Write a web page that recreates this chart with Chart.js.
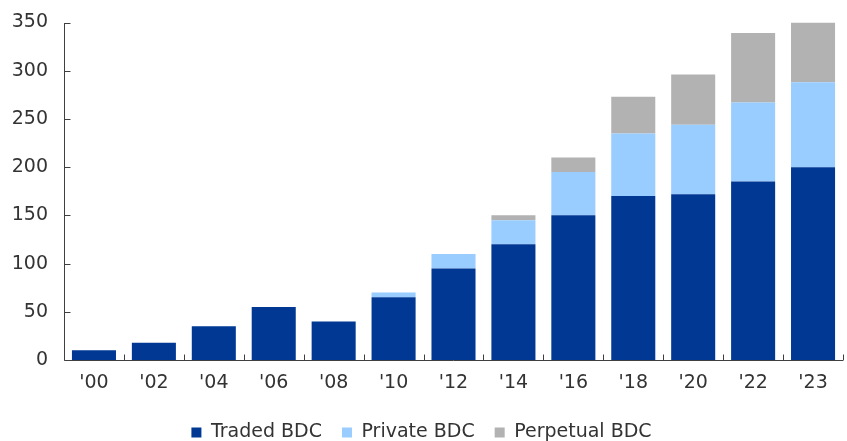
<!DOCTYPE html>
<html>
<head>
<meta charset="utf-8">
<script src="https://cdn.jsdelivr.net/npm/chart.js@4"></script>
<style>
  html, body { margin: 0; padding: 0; background: #ffffff; }
  #wrap { width: 847px; height: 441px; }
</style>
</head>
<body>
<div id="wrap"><canvas id="bdc" width="847" height="441"></canvas></div>
<script>
// Years (x-axis categories)
const years = ["'00", "'02", "'04", "'06", "'08", "'10", "'12", "'14", "'16", "'18", "'20", "'22", "'23"];

// Stacked segment values per year
const tradedBDC    = [10, 18, 35, 55, 40, 65, 95, 120, 150, 170, 172, 185, 200];
const privateBDC   = [0, 0, 0, 0, 0, 5, 15, 25, 45, 65, 72, 82, 88];
const perpetualBDC = [0, 0, 0, 0, 0, 0, 0, 5, 15, 38, 52, 72, 62];

// Y-axis tick values
const yTicks = [0, 50, 100, 150, 200, 250, 300, 350];

const AXIS_COLOR = '#404040';
const TEXT_COLOR = '#333333';
const FONT = 'DejaVu Sans';
const FONT_SIZE = 19;

// Draws the axis lines and short inward tick marks
const axisMarks = {
  id: 'axisMarks',
  afterDatasetsDraw(chart) {
    const { ctx, chartArea, scales } = chart;
    const x = scales.x, y = scales.y;
    ctx.save();
    ctx.strokeStyle = AXIS_COLOR;
    ctx.lineWidth = 1;
    ctx.beginPath();
    const left = Math.round(chartArea.left) + 0.5;
    const bottom = Math.round(y.getPixelForValue(0)) + 0.5;
    ctx.moveTo(left, Math.round(y.getPixelForValue(yTicks[yTicks.length - 1])));
    ctx.lineTo(left, bottom);
    ctx.lineTo(Math.round(chartArea.right), bottom);
    yTicks.forEach(v => {
      const py = Math.round(y.getPixelForValue(v)) + 0.5;
      ctx.moveTo(left, py);
      ctx.lineTo(left + 6, py);
    });
    const n = years.length;
    const step = x.getPixelForValue(1) - x.getPixelForValue(0);
    for (let i = 0; i < n; i++) {
      const px = Math.round(x.getPixelForValue(i) + step / 2) + 0.5;
      ctx.moveTo(px, bottom);
      ctx.lineTo(px, bottom - 6);
    }
    ctx.stroke();
    ctx.restore();
  }
};

new Chart(document.getElementById('bdc'), {
  type: 'bar',
  data: {
    labels: years,
    datasets: [
      { label: 'Traded BDC', data: tradedBDC, backgroundColor: '#003893' },
      { label: 'Private BDC', data: privateBDC, backgroundColor: '#99CCFF' },
      { label: 'Perpetual BDC', data: perpetualBDC, backgroundColor: '#B2B2B2' }
    ]
  },
  options: {
    responsive: false,
    animation: false,
    devicePixelRatio: 1,
    layout: { padding: { top: 22.5, right: 4, left: 0, bottom: -11 } },
    datasets: { bar: { categoryPercentage: 1, barPercentage: 0.735 } },
    scales: {
      x: {
        stacked: true,
        grid: { display: false, drawTicks: false },
        border: { display: false },
        ticks: { color: TEXT_COLOR, font: { family: FONT, size: FONT_SIZE }, padding: 12, maxRotation: 0 },
        afterFit(s) { s.height = 43; }
      },
      y: {
        stacked: true,
        min: 0, max: 350,
        grid: { display: false, drawTicks: false },
        border: { display: false },
        ticks: { stepSize: 50, color: TEXT_COLOR, font: { family: FONT, size: FONT_SIZE }, padding: 16 },
        afterFit(s) { s.width = 64; s.paddingTop = 0; s.paddingBottom = 0; }
      }
    },
    plugins: {
      legend: {
        position: 'bottom',
        labels: {
          color: TEXT_COLOR,
          font: { family: FONT, size: FONT_SIZE },
          boxWidth: 10, boxHeight: 10,
          padding: 20
        }
      },
      tooltip: { enabled: false }
    }
  },
  plugins: [axisMarks]
});
</script>
</body>
</html>
